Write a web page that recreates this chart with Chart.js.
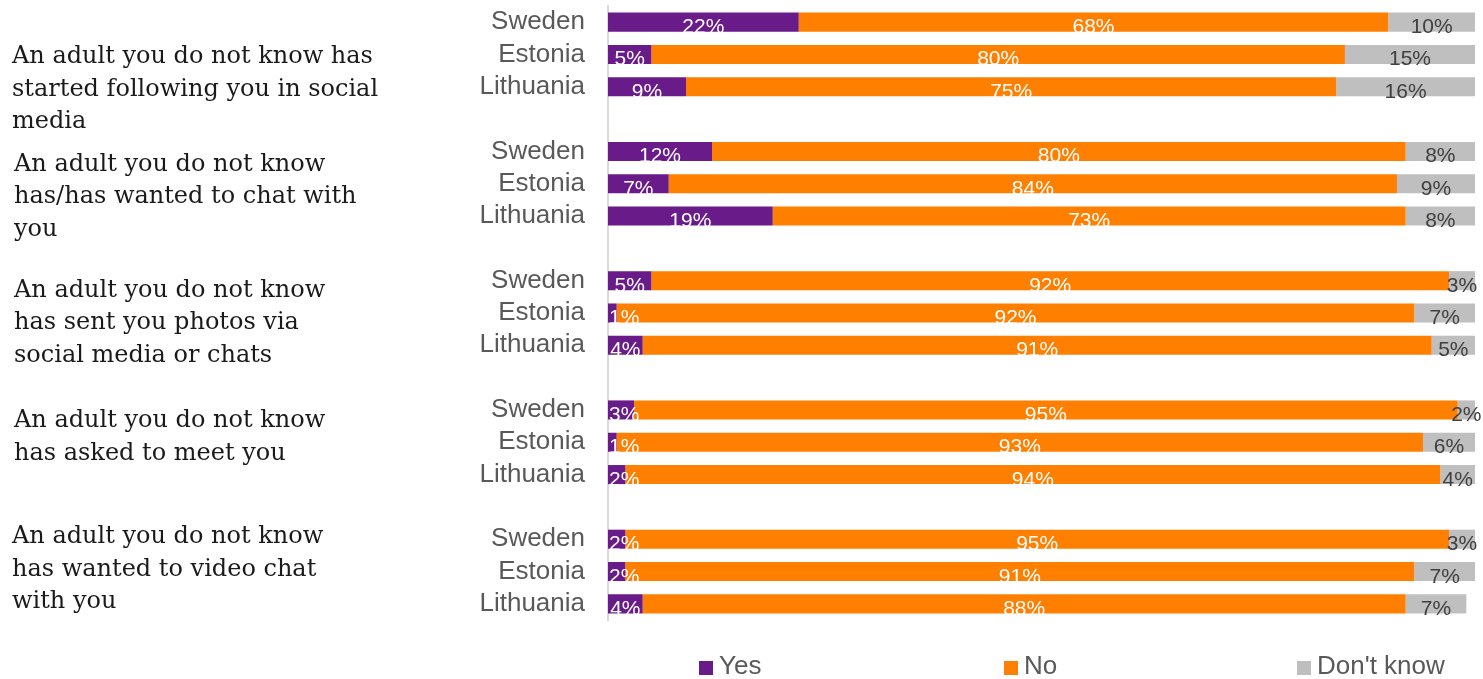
<!DOCTYPE html>
<html>
<head>
<meta charset="utf-8">
<script src="https://cdn.jsdelivr.net/npm/chart.js@4/dist/chart.umd.min.js"></script>
<style>
  html, body { margin: 0; padding: 0; background: #fff; }
  #wrap { width: 1483px; height: 679px; position: relative; }
</style>
</head>
<body>
<div id="wrap"><canvas id="myChart"></canvas></div>
<script>
var countries = ["Sweden", "Estonia", "Lithuania"];
var questions = [
	["An adult you do not know has", "started following you in social", "media"],
	["An adult you do not know", "has/has wanted to chat with", "you"],
	["An adult you do not know", "has sent you photos via", "social media or chats"],
	["An adult you do not know", "has asked to meet you"],
	["An adult you do not know", "has wanted to video chat", "with you"]
];
var yesValues      = [22, 5, 9,  12, 7, 19,  5, 1, 4,  3, 1, 2,  2, 2, 4];
var noValues       = [68, 80, 75, 80, 84, 73, 92, 92, 91, 95, 93, 94, 95, 91, 88];
var dontKnowValues = [10, 15, 16, 8, 9, 8,  3, 7, 5,  2, 6, 4,  3, 7, 7];
var seriesNames = ["Yes", "No", "Don't know"];

// layout only
var colors = ["#6A1B8A", "#FF7F00", "#BFBFBF"];
var labelColors = ["#ffffff", "#ffffff", "#404040"];
var questionOffsets = [35, 13, 10, 11, -2];
var questionX = [12, 14, 14, 14, 12];
var legendX = [699, 1004, 1297];

// rows with an empty row between groups
var rowLabels = [], yesRows = [], noRows = [], dkRows = [];
questions.forEach(function(q, g) {
	countries.forEach(function(c, i) {
		var k = g * 3 + i;
		rowLabels.push(c);
		yesRows.push(yesValues[k]);
		noRows.push(noValues[k]);
		dkRows.push(dontKnowValues[k]);
	});
	if (g < questions.length - 1) {
		rowLabels.push("");
		yesRows.push(null); noRows.push(null); dkRows.push(null);
	}
});

var barLabels = {
	id: "barLabels",
	afterDatasetsDraw: function(chart) {
		var ctx = chart.ctx;
		ctx.save();
		ctx.font = "21px 'Liberation Sans', Arial, sans-serif";
		ctx.textAlign = "left";
		ctx.textBaseline = "alphabetic";
		chart.data.datasets.forEach(function(ds, d) {
			var meta = chart.getDatasetMeta(d);
			meta.data.forEach(function(el, i) {
				var v = ds.data[i];
				if (v == null) return;
				var p = el.getProps(["x", "y", "base"], true);
				var txt = v + "%";
				var w = ctx.measureText(txt).width;
				var left = (p.x + p.base) / 2 - w / 2;
				if (d == 0 && left < p.base + 1) left = p.base + 1;
				ctx.fillStyle = labelColors[d];
				ctx.fillText(txt, left, p.y + 11);
			});
		});
		ctx.restore();
	}
};

var sideText = {
	id: "sideText",
	afterDraw: function(chart) {
		var ctx = chart.ctx;
		var y = chart.scales.y;
		ctx.save();
		ctx.font = "24px 'DejaVu Serif', serif";
		ctx.fillStyle = "#1a1a1a";
		ctx.textAlign = "left";
		ctx.textBaseline = "middle";
		questions.forEach(function(q, g) {
			var top = y.getPixelForValue(g * 4) + questionOffsets[g];
			q.forEach(function(line, j) {
				ctx.fillText(line, questionX[g], top + j * 32.5);
			});
		});
		// legend
		ctx.font = "26px 'Liberation Sans', Arial, sans-serif";
		ctx.textBaseline = "middle";
		var ly = chart.height - 12;
		seriesNames.forEach(function(name, s) {
			ctx.fillStyle = colors[s];
			ctx.fillRect(legendX[s], ly - 6, 14, 14);
			ctx.fillStyle = "#595959";
			ctx.fillText(name, legendX[s] + 20, ly);
		});
		ctx.restore();
	}
};

var myChart = new Chart("myChart", {
	type: "bar",
	data: {
		labels: rowLabels,
		datasets: [
			{ label: seriesNames[0], data: yesRows, backgroundColor: colors[0] },
			{ label: seriesNames[1], data: noRows, backgroundColor: colors[1] },
			{ label: seriesNames[2], data: dkRows, backgroundColor: colors[2] }
		]
	},
	options: {
		indexAxis: "y",
		responsive: true,
		maintainAspectRatio: false,
		animation: false,
		datasets: { bar: { barPercentage: 0.59, categoryPercentage: 1 } },
		layout: { padding: { top: 6, right: 8, bottom: 59, left: 0 } },
		plugins: { legend: { display: false }, tooltip: { enabled: false } },
		scales: {
			x: { stacked: true, min: 0, max: 100, display: false },
			y: {
				stacked: true,
				grid: { display: false },
				border: { display: true, color: "#D9D9D9", width: 2 },
				ticks: { autoSkip: false, color: "#595959", font: { size: 26, family: "'Liberation Sans', Arial, sans-serif" }, padding: 15 },
				afterFit: function(scale) {
					scale.width = 608;
					scale.paddingTop = 0;
					scale.paddingBottom = 0;
				}
			}
		}
	},
	plugins: [barLabels, sideText]
});
</script>
</body>
</html>
